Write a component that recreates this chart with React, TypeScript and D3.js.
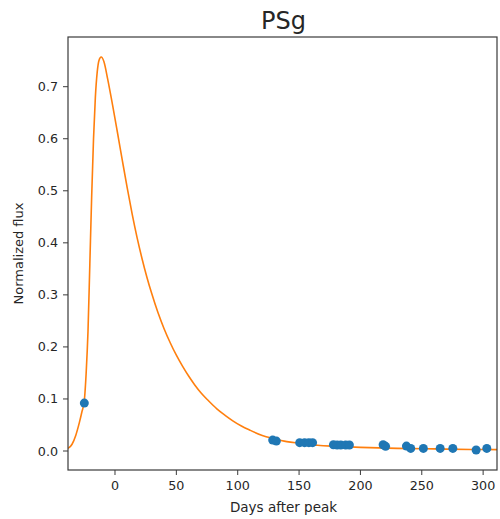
import React from "react";
import * as d3 from "d3";

const title = "PSg";
const xLabel = "Days after peak";
const yLabel = "Normalized flux";

const xTicks = [0, 50, 100, 150, 200, 250, 300];
const yTicks = [0.0, 0.1, 0.2, 0.3, 0.4, 0.5, 0.6, 0.7];

// fitted light curve
const curveDays = [-38.3, -35, -32, -29, -27, -25, -23.5, -22, -20.5, -19, -17.5, -16, -14.5, -13, -11.3, -9, -6, -2, 2, 6, 10, 14, 18, 22, 26, 30, 35, 40, 45, 50, 55, 60, 65, 70, 76, 83, 90, 96, 103, 110, 120, 129, 140, 150, 165, 180, 200, 230, 260, 290, 311.3];
const curveFlux = [0.005, 0.013, 0.03, 0.055, 0.075, 0.097, 0.15, 0.23, 0.36, 0.49, 0.6, 0.68, 0.728, 0.751, 0.757, 0.748, 0.715, 0.665, 0.612, 0.558, 0.505, 0.455, 0.41, 0.37, 0.334, 0.302, 0.266, 0.235, 0.208, 0.184, 0.163, 0.144, 0.127, 0.112, 0.097, 0.081, 0.068, 0.058, 0.048, 0.04, 0.03, 0.024, 0.018, 0.015, 0.011, 0.009, 0.007, 0.005, 0.004, 0.003, 0.0027];

// observations
const obsDays = [-25, 128.5, 131.5, 150.5, 154.5, 158, 161, 178, 181, 184, 188, 191, 218.5, 220.5, 237.5, 241, 251.3, 265, 275.3, 294.3, 303];
const obsFlux = [0.092, 0.021, 0.019, 0.016, 0.016, 0.016, 0.016, 0.012, 0.0115, 0.0115, 0.0115, 0.0115, 0.012, 0.009, 0.0095, 0.005, 0.005, 0.005, 0.005, 0.002, 0.005];

const W = 500, H = 519;
const M = { left: 68, right: 497, top: 37, bottom: 470 };

export default function App() {
  const x = d3.scaleLinear().domain([-38.3, 311.3]).range([M.left, M.right]);
  const y = d3.scaleLinear().domain([-0.0365, 0.7955]).range([M.bottom, M.top]);
  const line = d3
    .line<number>()
    .x((_, i) => x(curveDays[i]))
    .y((d) => y(d))
    .curve(d3.curveMonotoneX);
  const font = "'DejaVu Sans', sans-serif";
  const frame = "#3a3a3a";
  const txt = "#262626";
  return (
    <svg
      width={W}
      height={H}
      style={{ position: "fixed", left: 0, top: 0, background: "#fff" }}
      fontFamily={font}
    >
      <defs>
        <clipPath id="plot">
          <rect x={M.left} y={M.top} width={M.right - M.left} height={M.bottom - M.top} />
        </clipPath>
      </defs>
      <rect width={W} height={H} fill="#fff" />
      <g clipPath="url(#plot)">
        <path d={line(curveFlux) || ""} fill="none" stroke="#ff7f0e" strokeWidth={1.6} />
        {obsDays.map((d, i) => (
          <circle key={i} cx={x(d)} cy={y(obsFlux[i])} r={4.5} fill="#1f77b4" />
        ))}
      </g>
      <rect
        x={M.left}
        y={M.top}
        width={M.right - M.left}
        height={M.bottom - M.top}
        fill="none"
        stroke={frame}
        strokeWidth={1.2}
      />
      {xTicks.map((t) => (
        <g key={"x" + t}>
          <line x1={x(t)} x2={x(t)} y1={M.bottom} y2={M.bottom + 5} stroke={frame} strokeWidth={1} />
          <text x={x(t)} y={M.bottom + 20} textAnchor="middle" fontSize={12.7} fill={txt}>
            {t}
          </text>
        </g>
      ))}
      {yTicks.map((t) => (
        <g key={"y" + t}>
          <line x1={M.left - 5} x2={M.left} y1={y(t)} y2={y(t)} stroke={frame} strokeWidth={1} />
          <text x={M.left - 10} y={y(t) + 4.5} textAnchor="end" fontSize={12.7} fill={txt}>
            {t.toFixed(1)}
          </text>
        </g>
      ))}
      <text x={(M.left + M.right) / 2 + 1} y={512} textAnchor="middle" fontSize={13.5} fill={txt}>
        {xLabel}
      </text>
      <text
        transform={`translate(23, ${(M.top + M.bottom) / 2}) rotate(-90)`}
        textAnchor="middle"
        fontSize={13}
        fill={txt}
      >
        {yLabel}
      </text>
      <text x={(M.left + M.right) / 2 + 1} y={29} textAnchor="middle" fontSize={24} fill={txt}>
        {title}
      </text>
    </svg>
  );
}
